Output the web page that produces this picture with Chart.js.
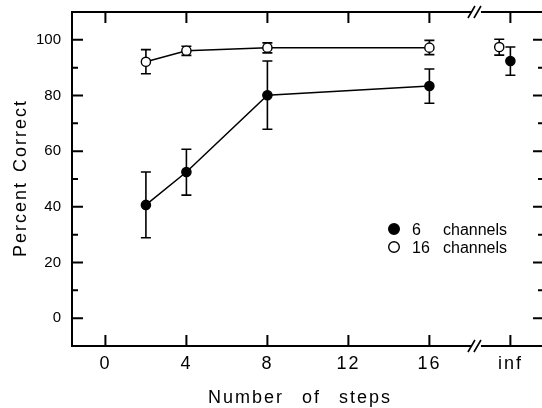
<!DOCTYPE html>
<html><head><meta charset="utf-8">
<script src="https://cdn.jsdelivr.net/npm/chart.js@4.4.1/dist/chart.umd.min.js"></script>
<style>html,body{margin:0;padding:0;background:#fff;overflow:hidden;width:542px;height:408px}canvas{display:block}</style>
</head><body><canvas id="c" width="560" height="408"></canvas>
<script>
// ---- data ----
const steps = [2, 4, 8, 16];
const ch6 = [40.7, 52.5, 80.1, 83.4];
const ch6Low = [28.9, 44.2, 67.9, 77.2];
const ch6High = [52.5, 60.7, 92.4, 89.5];
const ch16 = [92.1, 96.1, 97.2, 97.2];
const ch16Low = [87.8, 94.4, 95.3, 94.7];
const ch16High = [96.5, 97.7, 98.9, 99.8];
const infX6 = [20];
const inf6 = [92.4];
const inf6Low = [87.3];
const inf6High = [97.4];
const infX16 = [19.45];
const inf16 = [97.4];
const inf16Low = [94.5];
const inf16High = [100.2];
const xTickValues = [0, 4, 8, 12, 16, 20];
const xTickLabels = ['0', '4', '8', '12', '16', 'inf'];
const yTickValues = [0, 20, 40, 60, 80, 100];
const yMinorTicks = [10, 30, 50, 70, 90];
const breakAt = 18.3;
const legendNumbers = ['6', '16'];
const legendWord = 'channels';
const xTitle = 'Number of steps';
const yTitle = 'Percent Correct';

const FONT = '"Liberation Sans", Arial, Helvetica, sans-serif';

function pts(xs, ys) { return xs.map((x, i) => ({ x: x, y: ys[i] })); }

const errorSets = [
  { xs: steps, lo: ch6Low, hi: ch6High },
  { xs: steps, lo: ch16Low, hi: ch16High },
  { xs: infX6, lo: inf6Low, hi: inf6High },
  { xs: infX16, lo: inf16Low, hi: inf16High }
];

const decor = {
  id: 'decor',
  beforeDraw(chart) {
    const s = chart.scales.x;
    if (!s._wrapped) {
      const orig = s.drawLabels.bind(s);
      s.drawLabels = function (a) {
        const c = chart.ctx; c.save(); c.letterSpacing = '2px'; orig(a); c.restore();
      };
      s._wrapped = true;
    }
  },
  beforeDatasetsDraw(chart) {
    const ctx = chart.ctx, xs = chart.scales.x, ys = chart.scales.y;
    ctx.save();
    ctx.strokeStyle = '#000';
    ctx.lineWidth = 1.6;
    errorSets.forEach(e => {
      e.xs.forEach((xv, i) => {
        const px = xs.getPixelForValue(xv);
        const pl = ys.getPixelForValue(e.lo[i]);
        const ph = ys.getPixelForValue(e.hi[i]);
        ctx.beginPath();
        ctx.moveTo(px, pl); ctx.lineTo(px, ph);
        ctx.moveTo(px - 5, pl); ctx.lineTo(px + 5, pl);
        ctx.moveTo(px - 5, ph); ctx.lineTo(px + 5, ph);
        ctx.stroke();
      });
    });
    ctx.restore();
  },
  afterDraw(chart) {
    const ctx = chart.ctx, a = chart.chartArea, xs = chart.scales.x, ys = chart.scales.y;
    ctx.save();
    ctx.strokeStyle = '#000';
    ctx.lineWidth = 2;
    const bx = xs.getPixelForValue(breakAt);
    ctx.beginPath();
    ctx.moveTo(a.left, a.top); ctx.lineTo(a.left, a.bottom);
    ctx.moveTo(a.right, a.top); ctx.lineTo(a.right, a.bottom);
    [a.top, a.bottom].forEach(y => {
      ctx.moveTo(a.left - 1, y); ctx.lineTo(bx - 5, y);
      ctx.moveTo(bx + 5, y); ctx.lineTo(a.right + 1, y);
    });
    ctx.stroke();
    ctx.lineWidth = 1.6;
    ctx.beginPath();
    [a.top, a.bottom].forEach(y => {
      ctx.moveTo(bx - 8, y + 6); ctx.lineTo(bx - 1, y - 6);
      ctx.moveTo(bx - 2, y + 6); ctx.lineTo(bx + 5, y - 6);
    });
    ctx.stroke();
    ctx.lineWidth = 2;
    ctx.beginPath();
    xTickValues.forEach(v => {
      const px = xs.getPixelForValue(v);
      ctx.moveTo(px, a.bottom); ctx.lineTo(px, a.bottom - 11);
      ctx.moveTo(px, a.top); ctx.lineTo(px, a.top + 11);
    });
    yTickValues.forEach(v => {
      const py = ys.getPixelForValue(v);
      ctx.moveTo(a.left, py); ctx.lineTo(a.left + 11, py);
      ctx.moveTo(a.right, py); ctx.lineTo(a.right - 11, py);
    });
    yMinorTicks.forEach(v => {
      const py = ys.getPixelForValue(v);
      ctx.moveTo(a.left, py); ctx.lineTo(a.left + 6, py);
      ctx.moveTo(a.right, py); ctx.lineTo(a.right - 6, py);
    });
    ctx.stroke();

    ctx.fillStyle = '#000';
    ctx.font = '18px ' + FONT;
    ctx.letterSpacing = '2px';
    ctx.wordSpacing = '11px';
    ctx.textAlign = 'center';
    ctx.textBaseline = 'alphabetic';
    ctx.fillText(xTitle, 300, 403);
    ctx.wordSpacing = '2px';
    ctx.save();
    ctx.translate(26, 178);
    ctx.rotate(-Math.PI / 2);
    ctx.fillText(yTitle, 0, 0);
    ctx.restore();

    ctx.letterSpacing = '0px';
    ctx.wordSpacing = '0px';
    ctx.font = '16px ' + FONT;
    ctx.textAlign = 'left';
    const rows = [229, 247];
    rows.forEach((ry, i) => {
      ctx.beginPath();
      ctx.arc(394, ry, 5.3, 0, Math.PI * 2);
      ctx.fillStyle = i === 0 ? '#000' : '#fff';
      ctx.fill();
      ctx.lineWidth = 1.4;
      ctx.stroke();
      ctx.fillStyle = '#000';
      ctx.fillText(legendNumbers[i], 412, ry + 6);
      ctx.fillText(legendWord, 443, ry + 6);
    });
    ctx.restore();
  }
};

const common = { borderColor: '#000', borderWidth: 1.5, pointRadius: 4.6, pointBorderColor: '#000', pointBorderWidth: 1.4 };

function noPad(s) { s.paddingTop = 0; s.paddingBottom = 0; s.paddingLeft = 0; s.paddingRight = 0; }

new Chart(document.getElementById('c').getContext('2d'), {
  type: 'scatter',
  data: {
    datasets: [
      Object.assign({ label: '6 channels', data: pts(steps, ch6), showLine: true, pointBackgroundColor: '#000' }, common),
      Object.assign({ label: '16 channels', data: pts(steps, ch16), showLine: true, pointBackgroundColor: '#fff' }, common),
      Object.assign({ label: '6 channels inf', data: pts(infX6, inf6), showLine: false, pointBackgroundColor: '#000' }, common),
      Object.assign({ label: '16 channels inf', data: pts(infX16, inf16), showLine: false, pointBackgroundColor: '#fff' }, common)
    ]
  },
  options: {
    responsive: false,
    animation: false,
    events: [],
    layout: { padding: { top: 12, right: 16, left: 0, bottom: 0 } },
    plugins: { legend: { display: false }, tooltip: { enabled: false } },
    scales: {
      x: {
        type: 'linear', min: -1.65, max: 21.66,
        grid: { display: false, drawTicks: false }, border: { display: false },
        afterBuildTicks(s) { s.ticks = xTickValues.map(v => ({ value: v })); },
        afterFit(s) { s.height = 62; noPad(s); },
        ticks: {
          autoSkip: false, maxRotation: 0, padding: 7, color: '#000',
          font: { family: FONT, size: 18 },
          callback: (v) => { const i = xTickValues.indexOf(v); return i >= 0 ? xTickLabels[i] : ''; }
        }
      },
      y: {
        type: 'linear', min: -10, max: 110,
        grid: { display: false, drawTicks: false }, border: { display: false },
        afterBuildTicks(s) { s.ticks = yTickValues.map(v => ({ value: v })); },
        afterFit(s) { s.width = 72; noPad(s); },
        ticks: {
          padding: 11, color: '#000',
          font: { family: FONT, size: 15 },
          callback: (v) => String(v)
        }
      }
    }
  },
  plugins: [decor]
});
</script>
</body></html>
